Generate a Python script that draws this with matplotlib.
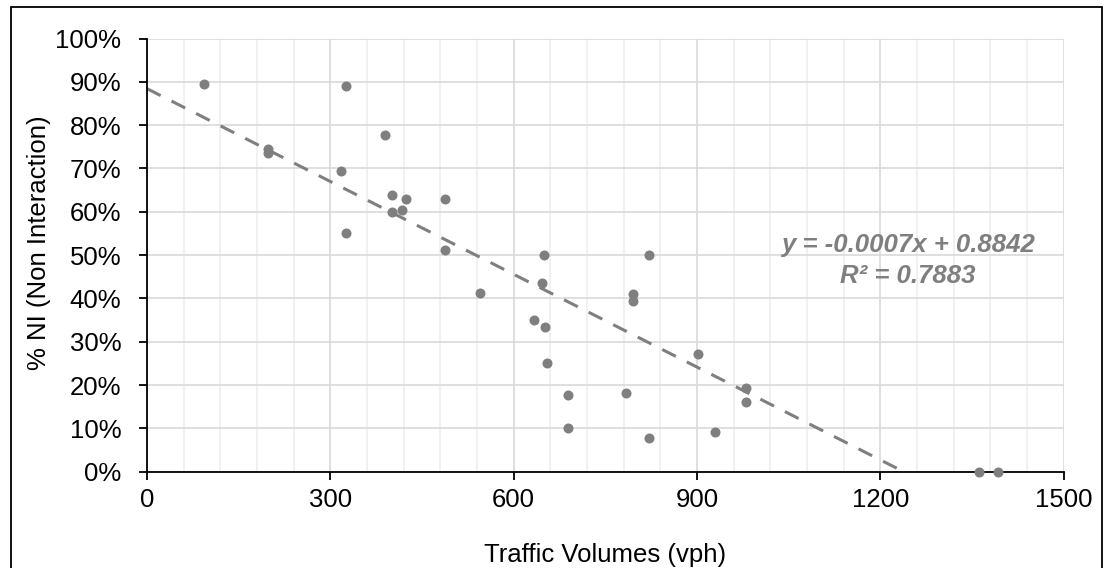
import matplotlib
matplotlib.use("Agg")
import matplotlib.pyplot as plt
import numpy as np
from matplotlib.patches import Rectangle
from matplotlib.ticker import PercentFormatter, MultipleLocator

plt.rcParams['font.family'] = ['Liberation Sans', 'DejaVu Sans']

# traffic volume (vph) and share of non-interaction
volume = [93, 198, 198, 325, 390, 318, 401, 424, 488, 401, 418, 325, 488,
          650, 821, 647, 545, 795, 795, 634, 651, 654, 902, 689, 784, 980,
          980, 689, 821, 930, 1361, 1392]
pct_ni = [0.895, 0.745, 0.735, 0.89, 0.778, 0.694, 0.639, 0.629, 0.629, 0.60,
          0.605, 0.55, 0.511, 0.50, 0.50, 0.435, 0.412, 0.41, 0.395, 0.35,
          0.335, 0.25, 0.271, 0.176, 0.182, 0.193, 0.16, 0.10, 0.077, 0.092,
          0.0, 0.0]

# trendline as reported in the chart
slope = -0.000714
intercept = 0.8842
eq_text = "y = -0.0007x + 0.8842"
r2_text = "R² = 0.7883"

grey = '#7f7f7f'

fig = plt.figure(figsize=(11.04, 5.68), dpi=100)
ax = fig.add_axes([147 / 1104, 1 - 471.7 / 568, 916.5 / 1104, 433.2 / 568])

ax.set_xlim(0, 1500)
ax.set_ylim(0, 1.0)
ax.xaxis.set_major_locator(MultipleLocator(300))
ax.xaxis.set_minor_locator(MultipleLocator(60))
ax.yaxis.set_major_locator(MultipleLocator(0.1))
ax.yaxis.set_major_formatter(PercentFormatter(1.0, decimals=0))

ax.grid(which='minor', axis='x', color='#efefef', lw=1.2)
ax.grid(which='major', axis='x', color='#d9d9d9', lw=1.2)
ax.grid(which='major', axis='y', color='#d9d9d9', lw=1.2)
ax.set_axisbelow(True)

for s in ['top', 'right']:
    ax.spines[s].set_visible(False)
for s in ['left', 'bottom']:
    ax.spines[s].set_linewidth(1.3)
    ax.spines[s].set_color('black')

ax.tick_params(which='major', direction='out', length=5.5, width=1.3,
               labelsize=18.5, colors='black')
ax.tick_params(axis='x', which='major', pad=6)
ax.tick_params(axis='y', which='major', pad=13)
ax.tick_params(which='minor', length=0)

tx = np.array([0, 1500])
trend, = ax.plot(tx, intercept + slope * tx, color=grey, lw=2.2, zorder=2)
trend.set_dashes((5, 4))

ax.scatter(volume, pct_ni, s=52, color=grey, zorder=3, clip_on=False,
           linewidths=0)

ax.text(1245, 0.5065, eq_text, color=grey, fontsize=18.5, fontweight='bold',
        fontstyle='italic', ha='center', va='baseline')
ax.text(1245, 0.435, r2_text, color=grey, fontsize=18.5, fontweight='bold',
        fontstyle='italic', ha='center', va='baseline')

fig.text(39 / 1104, 1 - 243 / 568, '% NI (Non Interaction)', rotation=90,
         ha='center', va='center', fontsize=18.5)
fig.text(605 / 1104, 1 - 561.7 / 568, 'Traffic Volumes (vph)',
         ha='center', va='baseline', fontsize=18.5)

fig.patches.append(Rectangle((10.5 / 1104, -0.01), 1091 / 1104, 1.01 - 6.5 / 568,
                             transform=fig.transFigure, fill=False,
                             edgecolor='black', lw=1.3))

fig.savefig('out.png', dpi=100)
